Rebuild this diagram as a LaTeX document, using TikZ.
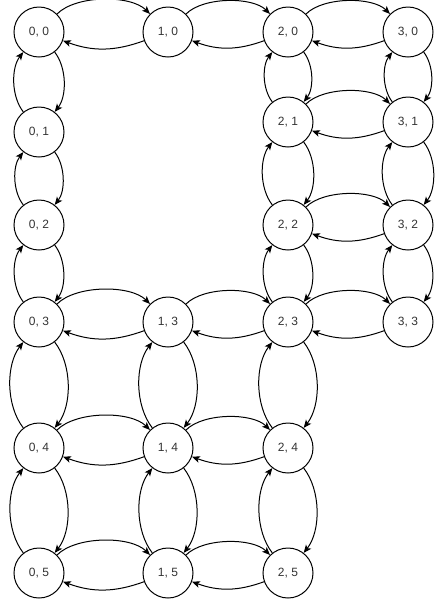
\documentclass[tikz,border=0pt]{standalone}
\usepackage{fontspec}
\setmainfont{Liberation Sans}
\usepackage{tikz}
\usetikzlibrary{arrows.meta}
\usetikzlibrary{positioning}
\tikzset{state/.style={circle,draw=black,line width=0.75pt,minimum size=37.5pt,inner sep=0pt,text=black!80,font=\fontsize{9}{10}\selectfont}}
\tikzset{move/.style={draw=black,line width=0.75pt,-{Stealth[length=6pt,width=5pt,inset=1.5pt]}}}
\tikzset{fw/.style={move,bend left=45,looseness=0.75}}
\tikzset{bk/.style={move,bend left=20}}
\tikzset{vt/.style={move,bend left=38,looseness=0.85}}

\begin{document}
\begin{tikzpicture}[x=0.75pt,y=-0.75pt]
\useasboundingbox (0,0) rectangle (442,601);
% states
\node[state] (s00) at (39,32) {0, 0};
\node[state] (s10) at (168,32) {1, 0};
\node[state] (s20) at (288,32) {2, 0};
\node[state] (s30) at (408,32) {3, 0};
\node[state] (s01) at (39,132) {0, 1};
\node[state] (s21) at (288,122) {2, 1};
\node[state] (s31) at (408,122) {3, 1};
\node[state] (s02) at (39,225) {0, 2};
\node[state] (s22) at (288,225) {2, 2};
\node[state] (s32) at (408,225) {3, 2};
\node[state] (s03) at (39,322) {0, 3};
\node[state] (s13) at (168,322) {1, 3};
\node[state] (s23) at (288,322) {2, 3};
\node[state] (s33) at (408,322) {3, 3};
\node[state] (s04) at (39,448) {0, 4};
\node[state] (s14) at (168,448) {1, 4};
\node[state] (s24) at (288,448) {2, 4};
\node[state] (s05) at (39,573) {0, 5};
\node[state] (s15) at (168,573) {1, 5};
\node[state] (s25) at (288,573) {2, 5};

% horizontal moves
\path (s00) edge[fw] (s10) (s10) edge[bk] (s00);
\path (s10) edge[fw] (s20) (s20) edge[bk] (s10);
\path (s20) edge[fw] (s30) (s30) edge[bk] (s20);
\path (s21) edge[fw] (s31) (s31) edge[bk] (s21);
\path (s22) edge[fw] (s32) (s32) edge[bk] (s22);
\path (s03) edge[fw] (s13) (s13) edge[bk] (s03);
\path (s13) edge[fw] (s23) (s23) edge[bk] (s13);
\path (s23) edge[fw] (s33) (s33) edge[bk] (s23);
\path (s04) edge[fw] (s14) (s14) edge[bk] (s04);
\path (s14) edge[fw] (s24) (s24) edge[bk] (s14);
\path (s05) edge[fw] (s15) (s15) edge[bk] (s05);
\path (s15) edge[fw] (s25) (s25) edge[bk] (s15);

% vertical moves
\path (s00) edge[vt] (s01) (s01) edge[vt] (s00);
\path (s01) edge[vt] (s02) (s02) edge[vt] (s01);
\path (s02) edge[vt] (s03) (s03) edge[vt] (s02);
\path (s03) edge[vt] (s04) (s04) edge[vt] (s03);
\path (s04) edge[vt] (s05) (s05) edge[vt] (s04);
\path (s13) edge[vt] (s14) (s14) edge[vt] (s13);
\path (s14) edge[vt] (s15) (s15) edge[vt] (s14);
\path (s20) edge[vt] (s21) (s21) edge[vt] (s20);
\path (s21) edge[vt] (s22) (s22) edge[vt] (s21);
\path (s22) edge[vt] (s23) (s23) edge[vt] (s22);
\path (s23) edge[vt] (s24) (s24) edge[vt] (s23);
\path (s24) edge[vt] (s25) (s25) edge[vt] (s24);
\path (s30) edge[vt] (s31) (s31) edge[vt] (s30);
\path (s31) edge[vt] (s32) (s32) edge[vt] (s31);
\path (s32) edge[vt] (s33) (s33) edge[vt] (s32);
\end{tikzpicture}
\end{document}
